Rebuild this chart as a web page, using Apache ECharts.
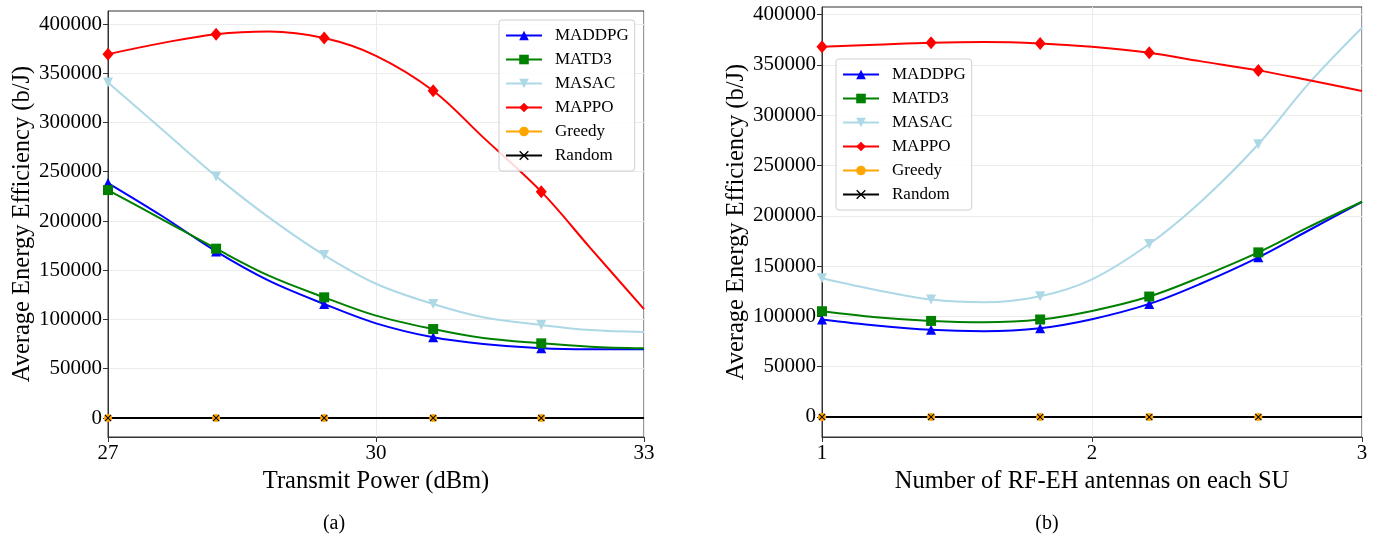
<!DOCTYPE html>
<html lang="en">
<head>
    <meta charset="UTF-8">
    <title>Average Energy Efficiency</title>
    <style>
        html, body { margin: 0; padding: 0; background: #fff; }
        #chart { width: 1379px; height: 535px; }
    </style>
    <script src="https://cdn.jsdelivr.net/npm/echarts@6/dist/echarts.min.js"></script>
</head>
<body>
<div id="chart"></div>
<script>
    // (a) transmit power sweep
    var powerX  = [27, 27.6, 28.21, 28.8, 29.42, 30, 30.64, 31.2, 31.85, 32.4, 33];
    var markA   = [27, 28.21, 29.42, 30.64, 31.85];   // samples drawn with a marker
    var maddpgA = [238500, 205300, 169100, 139400, 115700, 96100, 81900, 75100, 70700, 69700, 69700];
    var matd3A  = [231400, 202000, 171900, 144500, 122500, 103900, 90300, 81200, 75800, 72400, 70700];
    var masacA  = [340700, 293300, 245300, 203700, 165400, 136300, 115700, 102200, 94400, 89300, 87300];
    var mappoA  = [369400, 380600, 389700, 392400, 385700, 367700, 332200, 284900, 229800, 172500, 110600];
    var greedyA = [0, 0, 0, 0, 0, 0, 0, 0, 0, 0, 0];
    var randomA = [0, 0, 0, 0, 0, 0, 0, 0, 0, 0, 0];

    // (b) number of RF-EH antennas sweep
    var antX    = [1, 1.2, 1.404, 1.6, 1.808, 2, 2.212, 2.4, 2.616, 2.8, 3];
    var markB   = [1, 1.404, 1.808, 2.212, 2.616];
    var maddpgB = [96900, 90900, 86600, 85300, 88300, 97200, 112400, 132200, 158700, 185100, 213900];
    var matd3B  = [105100, 99200, 95500, 94200, 96900, 105400, 119700, 138800, 163600, 188400, 213900];
    var masacB  = [137900, 126300, 116700, 114000, 120000, 136800, 171900, 213200, 271100, 330600, 386800];
    var mappoB  = [367900, 369900, 371900, 372600, 371200, 367900, 362000, 353700, 344500, 334900, 324000];
    var greedyB = [0, 0, 0, 0, 0, 0, 0, 0, 0, 0, 0];
    var randomB = [0, 0, 0, 0, 0, 0, 0, 0, 0, 0, 0];

    var yTicks = [0, 50000, 100000, 150000, 200000, 250000, 300000, 350000, 400000];
    var names = ['MADDPG', 'MATD3', 'MASAC', 'MAPPO', 'Greedy', 'Random'];

    var FONT = '"Liberation Serif", "DejaVu Serif", serif';

    // marker / colour per algorithm
    var styles = {
        MADDPG: { color: '#0000ff', symbol: 'triangle', size: 10 },
        MATD3:  { color: '#008000', symbol: 'rect', size: 10 },
        MASAC:  { color: '#add8e6', symbol: 'path://M0,0L10,0L5,9Z', size: 10 },
        MAPPO:  { color: '#ff0000', symbol: 'diamond', size: [11, 13] },
        Greedy: { color: '#ffa500', symbol: 'circle', size: 8 },
        Random: { color: '#000000', symbol: 'path://M0,1L1,0L5,4L9,0L10,1L6,5L10,9L9,10L5,6L1,10L0,9L4,5Z', size: 7 }
    };

    var mChart = echarts.init(document.getElementById('chart'));

    function makeSeries(name, xs, ys, marks, idx) {
        var st = styles[name];
        var data = xs.map(function (x, i) {
            var item = { value: [x, ys[i]] };
            if (marks.indexOf(x) < 0) item.symbol = 'none';
            return item;
        });
        return {
            name: name,
            type: 'line',
            xAxisIndex: idx,
            yAxisIndex: idx,
            smooth: 0.35,
            data: data,
            symbol: st.symbol,
            symbolSize: st.size,
            showAllSymbol: true,
            color: st.color,
            lineStyle: { color: st.color, width: 2 },
            itemStyle: { color: st.color },
            emphasis: { disabled: true },
            animation: false
        };
    }

    function xAxisOf(idx, min, max, interval, title) {
        return {
            type: 'value', gridIndex: idx, min: min, max: max, interval: interval,
            name: title, nameLocation: 'middle', nameGap: 31,
            nameTextStyle: { fontFamily: FONT, fontSize: 24.5, color: '#000' },
            axisLine: { show: true, onZero: false, lineStyle: { color: '#333', width: 1 } },
            axisTick: { show: true, inside: false, length: 5, lineStyle: { color: '#333' } },
            axisLabel: { fontFamily: FONT, fontSize: 21, color: '#000', margin: 6 },
            splitLine: { show: true, lineStyle: { color: '#ebebeb', width: 1 } }
        };
    }

    function yAxisOf(idx, min, max) {
        return {
            type: 'value', gridIndex: idx, min: min, max: max,
            name: 'Average Energy Efficiency (b/J)', nameLocation: 'middle', nameGap: 73,
            nameTextStyle: { fontFamily: FONT, fontSize: 24.5, color: '#000' },
            axisLine: { show: true, lineStyle: { color: '#333', width: 1 } },
            axisTick: { show: true, length: 5, customValues: yTicks, lineStyle: { color: '#333' } },
            axisLabel: {
                fontFamily: FONT, fontSize: 21, color: '#000', margin: 6, customValues: yTicks,
                formatter: function (v) { return String(v); }
            },
            splitLine: { show: true, lineStyle: { color: '#ebebeb', width: 1 } }
        };
    }

    function legendOf(left, top) {
        return {
            data: names,
            orient: 'vertical',
            left: left, top: top,
            itemWidth: 36, itemHeight: 12, itemGap: 7,
            padding: [7, 6, 7, 6],
            borderColor: '#d0d0d0', borderWidth: 1, borderRadius: 3,
            backgroundColor: 'rgba(255,255,255,0.85)',
            textStyle: { fontFamily: FONT, fontSize: 17, color: '#000', padding: [0, 0, 0, 8] }
        };
    }

    var series = [];
    var setA = [maddpgA, matd3A, masacA, mappoA, greedyA, randomA];
    var setB = [maddpgB, matd3B, masacB, mappoB, greedyB, randomB];
    names.forEach(function (n, i) { series.push(makeSeries(n, powerX, setA[i], markA, 0)); });
    names.forEach(function (n, i) { series.push(makeSeries(n, antX, setB[i], markB, 1)); });

    var option = {
        animation: false,
        backgroundColor: '#fff',
        grid: [
            { left: 108, right: 735, top: 11, bottom: 98, show: true, borderColor: '#333', borderWidth: 1 },
            { left: 822, right: 17, top: 7, bottom: 98, show: true, borderColor: '#333', borderWidth: 1 }
        ],
        xAxis: [
            xAxisOf(0, 27, 33, 3, 'Transmit Power (dBm)'),
            xAxisOf(1, 1, 3, 1, 'Number of RF-EH antennas on each SU')
        ],
        yAxis: [
            yAxisOf(0, -19300, 413200),
            yAxisOf(1, -19900, 407500)
        ],
        legend: [legendOf(499, 20), legendOf(836, 59)],
        graphic: [
            { type: 'text', x: 334, y: 524, style: { text: '(a)', font: '20px ' + FONT, fill: '#000', align: 'center', verticalAlign: 'middle' } },
            { type: 'text', x: 1047, y: 524, style: { text: '(b)', font: '20px ' + FONT, fill: '#000', align: 'center', verticalAlign: 'middle' } }
        ],
        series: series
    };

    mChart.setOption(option);
</script>
</body>
</html>
